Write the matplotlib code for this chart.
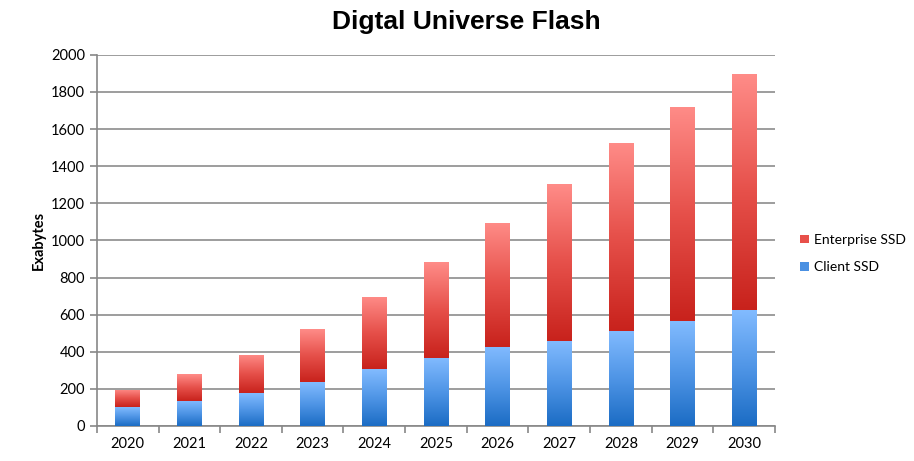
import numpy as np
import matplotlib
matplotlib.use('Agg')
import matplotlib.pyplot as plt
from matplotlib.colors import LinearSegmentedColormap
from matplotlib.patches import Patch

years = ['2020', '2021', '2022', '2023', '2024', '2025',
         '2026', '2027', '2028', '2029', '2030']
client_ssd = [100, 135, 177, 236, 305, 367, 426, 460, 512, 565, 625]
total_ssd = [195, 280, 385, 520, 694, 882, 1096, 1303, 1527, 1721, 1896]
enterprise_ssd = [t - c for t, c in zip(total_ssd, client_ssd)]

blue_cmap = LinearSegmentedColormap.from_list('blue', ['#1b6cc4', '#4f95e6', '#82bbff'])
red_cmap = LinearSegmentedColormap.from_list('red', ['#c8221c', '#e6504a', '#ff8c88'])

plt.rcParams['font.family'] = ['Lato', 'DejaVu Sans']

fig = plt.figure(figsize=(9.14, 4.61), dpi=100)
ax = fig.add_axes([0.106, 0.076, 0.742, 0.805])

x = np.arange(len(years))
width = 0.4
gradient = np.linspace(0, 1, 256).reshape(-1, 1)


def gradient_bars(bars, cmap):
    for bar in bars:
        bar.set_facecolor('none')
        bar.set_edgecolor('none')
        bb = bar.get_bbox()
        im = ax.imshow(gradient, cmap=cmap, origin='lower', aspect='auto',
                       extent=(bb.x0, bb.x1, bb.y0, bb.y1), zorder=3)
        im.set_clip_path(bar)


b1 = ax.bar(x, client_ssd, width, zorder=3)
b2 = ax.bar(x, enterprise_ssd, width, bottom=client_ssd, zorder=3)
gradient_bars(b1, blue_cmap)
gradient_bars(b2, red_cmap)

ax.set_xlim(-0.5, len(years) - 0.5)
ax.set_ylim(0, 2000)
ax.set_yticks(range(0, 2001, 200))
ax.set_xticks(x)
ax.set_xticklabels(years)
ax.set_xticks(np.arange(-0.5, len(years), 1), minor=True)
ax.tick_params(axis='x', which='major', length=0, pad=8, labelsize=10.5)
ax.tick_params(axis='x', which='minor', length=5, color='#888888', width=1.2)
ax.tick_params(axis='y', length=5, color='#888888', width=1.2, labelsize=10.5)
ax.grid(axis='y', color='#8c8c8c', linewidth=1.2, zorder=0)
ax.set_axisbelow(True)
for s in ['top', 'right']:
    ax.spines[s].set_visible(False)
for s in ['left', 'bottom']:
    ax.spines[s].set_color('#888888')
    ax.spines[s].set_linewidth(1.2)

ax.set_ylabel('Exabytes', fontsize=10.5, fontweight='bold', labelpad=4)
fig.suptitle('Digtal Universe Flash', x=0.51, y=0.978, fontsize=19,
             fontweight='bold', family=['Liberation Sans', 'DejaVu Sans'])

handles = [Patch(facecolor='#e8504a', label='Enterprise SSD'),
           Patch(facecolor='#4a90e2', label='Client SSD')]
fig.legend(handles=handles, loc='center left', bbox_to_anchor=(0.868, 0.45),
           frameon=False, fontsize=10, handlelength=0.6, handleheight=0.6,
           handletextpad=0.4, labelspacing=1.1, borderpad=0)

fig.savefig('out.png', dpi=100)
